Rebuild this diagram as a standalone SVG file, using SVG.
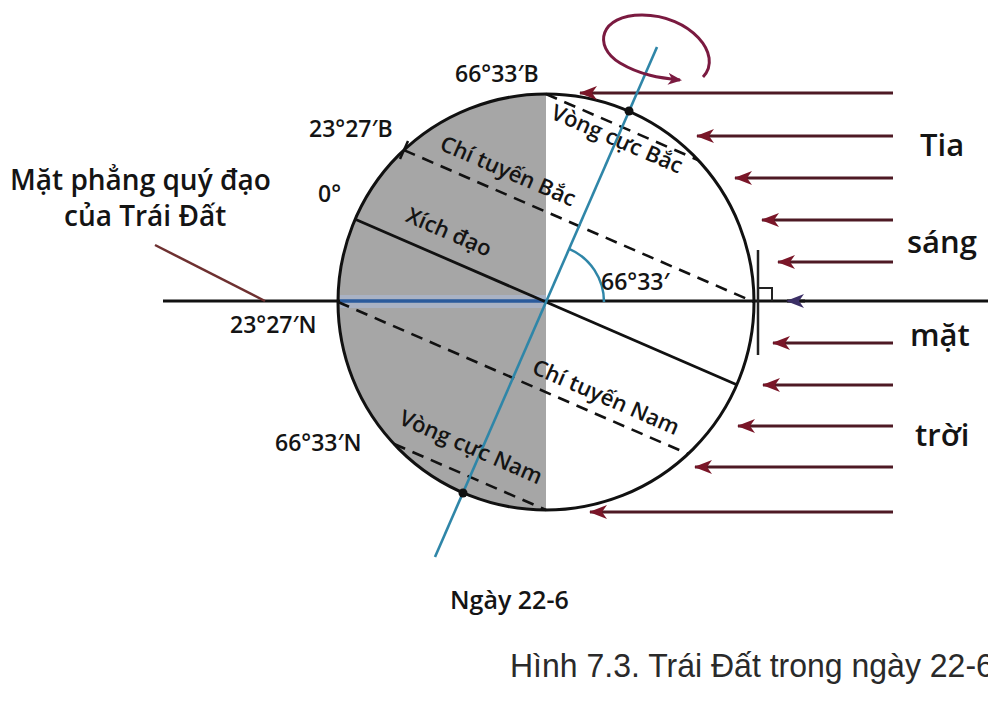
<svg xmlns="http://www.w3.org/2000/svg" width="988" height="714" viewBox="0 0 988 714">
<style>
text{font-family:"Open Sans","Noto Sans","Liberation Sans",sans-serif;fill:#141414;font-weight:600}
.lbl{font-size:23px}
.rot{font-size:22px}
.big{font-size:31px}
.cap{font-size:28px}
.ray{stroke:#4e1a24;stroke-width:3;fill:none}
.dash{stroke:#111;stroke-width:2.6;stroke-dasharray:12 8;fill:none}
</style>
<defs>
<marker id="ah" viewBox="0 0 18 14" refX="17" refY="7" markerWidth="18" markerHeight="14" markerUnits="userSpaceOnUse" orient="auto">
<path d="M0 0 L18 7 L0 14 L5 7 Z" fill="#7a1628"/>
</marker>
<marker id="ahb" viewBox="0 0 18 14" refX="17" refY="7" markerWidth="18" markerHeight="14" markerUnits="userSpaceOnUse" orient="auto">
<path d="M0 0 L18 7 L0 14 L5 7 Z" fill="#3b2f66"/>
</marker>
<marker id="ahr" viewBox="0 0 14 12" refX="12" refY="6" markerWidth="14" markerHeight="12" markerUnits="userSpaceOnUse" orient="auto">
<path d="M0 0 L14 6 L0 12 L4 6 Z" fill="#7a1a40"/>
</marker>
</defs>

<g id="globe">
<circle cx="546" cy="302" r="208" fill="#ffffff"/>
<path d="M546 94 A208 208 0 0 0 546 510 Z" fill="#a6a6a6"/>
<rect x="340" y="295" width="206" height="13" fill="#a9b2c4"/>
<circle cx="546" cy="302" r="208" fill="none" stroke="#111" stroke-width="3"/>
</g>

<g id="connectors">
<line x1="163" y1="301" x2="340" y2="301" stroke="#111" stroke-width="3"/>
<line x1="340" y1="301" x2="546" y2="301" stroke="#2a5a9c" stroke-width="3.5"/>
<line x1="546" y1="301" x2="988" y2="301" stroke="#111" stroke-width="3"/>
<line x1="805" y1="301" x2="787" y2="301" stroke="#111" stroke-width="3" marker-end="url(#ahb)"/>
<line x1="155" y1="245" x2="265" y2="301" stroke="#6e3030" stroke-width="2.5"/>
<line x1="893" y1="93" x2="580" y2="93" class="ray" marker-end="url(#ah)"/>
<line x1="893" y1="136" x2="697" y2="136" class="ray" marker-end="url(#ah)"/>
<line x1="893" y1="178" x2="735" y2="178" class="ray" marker-end="url(#ah)"/>
<line x1="893" y1="220" x2="762" y2="220" class="ray" marker-end="url(#ah)"/>
<line x1="893" y1="262" x2="778" y2="262" class="ray" marker-end="url(#ah)"/>
<line x1="893" y1="343" x2="773" y2="343" class="ray" marker-end="url(#ah)"/>
<line x1="893" y1="385" x2="763" y2="385" class="ray" marker-end="url(#ah)"/>
<line x1="893" y1="426" x2="738" y2="426" class="ray" marker-end="url(#ah)"/>
<line x1="893" y1="467" x2="695" y2="467" class="ray" marker-end="url(#ah)"/>
<line x1="893" y1="512" x2="590" y2="512" class="ray" marker-end="url(#ah)"/>
</g>

<g id="latitudes">
<line x1="355.2" y1="219.2" x2="736.8" y2="384.8" stroke="#111" stroke-width="2.8"/>
<line x1="403.9" y1="150.1" x2="754" y2="302" class="dash"/>
<line x1="545.9" y1="94" x2="697.9" y2="160" class="dash"/>
<line x1="338" y1="302" x2="688.1" y2="453.9" class="dash"/>
<line x1="394.1" y1="444" x2="546.1" y2="510" class="dash"/>
<line x1="400" y1="159" x2="408" y2="141" stroke="#111" stroke-width="2.5"/>
</g>

<g id="axis">
<line x1="657" y1="47" x2="435" y2="557" stroke="#2f86a8" stroke-width="2.6"/>
<path d="M604 302 A58 58 0 0 0 569.1 248.8" fill="none" stroke="#2f86a8" stroke-width="2.5"/>
<circle cx="629" cy="111" r="4.5" fill="#111"/>
<circle cx="463" cy="493" r="4.5" fill="#111"/>
<path d="M703 77 C724 55 690 15 642 15 C600 15 592 46 620 63 C640 75 660 78 680 80" fill="none" stroke="#7a1a40" stroke-width="3" marker-end="url(#ahr)"/>
</g>

<g id="tangent">
<line x1="758" y1="250" x2="758" y2="355" stroke="#222" stroke-width="2.5"/>
<path d="M758 288 H772 V301" fill="none" stroke="#222" stroke-width="2"/>
</g>

<g id="labels">
<text class="lbl" x="455" y="82">66°33′B</text>
<text class="lbl" x="309" y="137">23°27′B</text>
<text class="lbl" x="318" y="202">0°</text>
<text class="lbl" x="230" y="333">23°27′N</text>
<text class="lbl" x="275" y="451">66°33′N</text>
<text class="lbl" x="601" y="290">66°33′</text>
<text class="cap" x="10" y="190">Mặt phẳng quý đạo</text>
<text class="cap" x="64" y="226">của Trái Đất</text>
<text class="rot" text-anchor="middle" transform="translate(614 146) rotate(23.45)">Vòng cực Bắc</text>
<text class="rot" text-anchor="middle" transform="translate(505 178) rotate(23.45)">Chí tuyến Bắc</text>
<text class="rot" text-anchor="middle" transform="translate(446 239) rotate(23.45)">Xích đạo</text>
<text class="rot" text-anchor="middle" transform="translate(603 404) rotate(23.45)">Chí tuyến Nam</text>
<text class="rot" text-anchor="middle" transform="translate(468 454) rotate(23.45)">Vòng cực Nam</text>
<text class="big" x="920" y="156">Tia</text>
<text class="big" x="907" y="253">sáng</text>
<text class="big" x="910" y="346">mặt</text>
<text class="big" x="915" y="446">trời</text>
<text x="450" y="609" style="font-size:25px">Ngày 22-6</text>
<text transform="translate(510 677) scale(0.97 1)" style="font-family:'Liberation Sans',sans-serif;font-size:33px;font-weight:400;fill:#2a2a2a">Hình 7.3. Trái Đất trong ngày 22-6</text>
</g>
</svg>
